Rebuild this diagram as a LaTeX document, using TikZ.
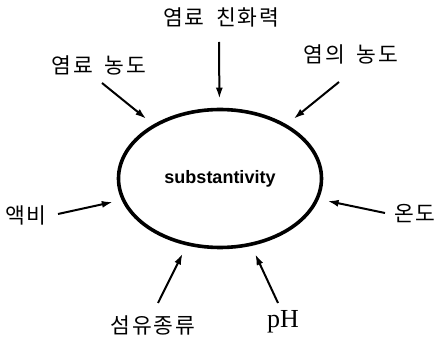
\documentclass[tikz,border=0pt]{standalone}
\usepackage{fontspec}
\setmainfont{Liberation Serif}
\newfontfamily\kr[LetterSpace=8]{Noto Sans CJK KR}
\newfontfamily\hv{Liberation Sans}
\usetikzlibrary{shapes.geometric,arrows.meta}
\begin{document}
\begin{tikzpicture}[x=1pt,y=-1pt,
  lbl/.style={font=\kr\fontsize{21.5}{23}\selectfont, inner sep=0pt},
  arr/.style={line width=2pt, -{Latex[length=11pt,width=7pt]}, shorten >=9pt}]
\useasboundingbox (0,0) rectangle (439,339);
\node[ellipse, draw, line width=3.6pt, minimum width=203pt, minimum height=138pt, inner sep=0pt,
  font=\hv\bfseries\fontsize{18}{20}\selectfont] (c) at (220,178.5) {substantivity};
\node[lbl] (t1) at (221,17) {염료\hspace{0.55em}친화력};
\node[lbl] (t2) at (99,65) {염료\hspace{0.55em}농도};
\node[lbl] (t3) at (351,54) {염의\hspace{0.55em}농도};
\node[lbl] (t4) at (26,215) {액비};
\node[lbl] (t5) at (415,214) {온도};
\node[lbl] (t6) at (153,325) {섬유종류};
\node[font=\fontsize{26}{28}\selectfont, inner sep=0pt] (t7) at (283,322) {pH};
\coordinate (s1) at (219,42);
\coordinate (s2) at (102,83);
\coordinate (s3) at (339,82);
\coordinate (s4) at (58,214);
\coordinate (s5) at (385,213);
\coordinate (s6) at (158,303);
\coordinate (s7) at (278,303);
\foreach \s in {s1,s2,s3,s4,s5,s6,s7} \draw[arr] (\s) -- (c);
\end{tikzpicture}
\end{document}
